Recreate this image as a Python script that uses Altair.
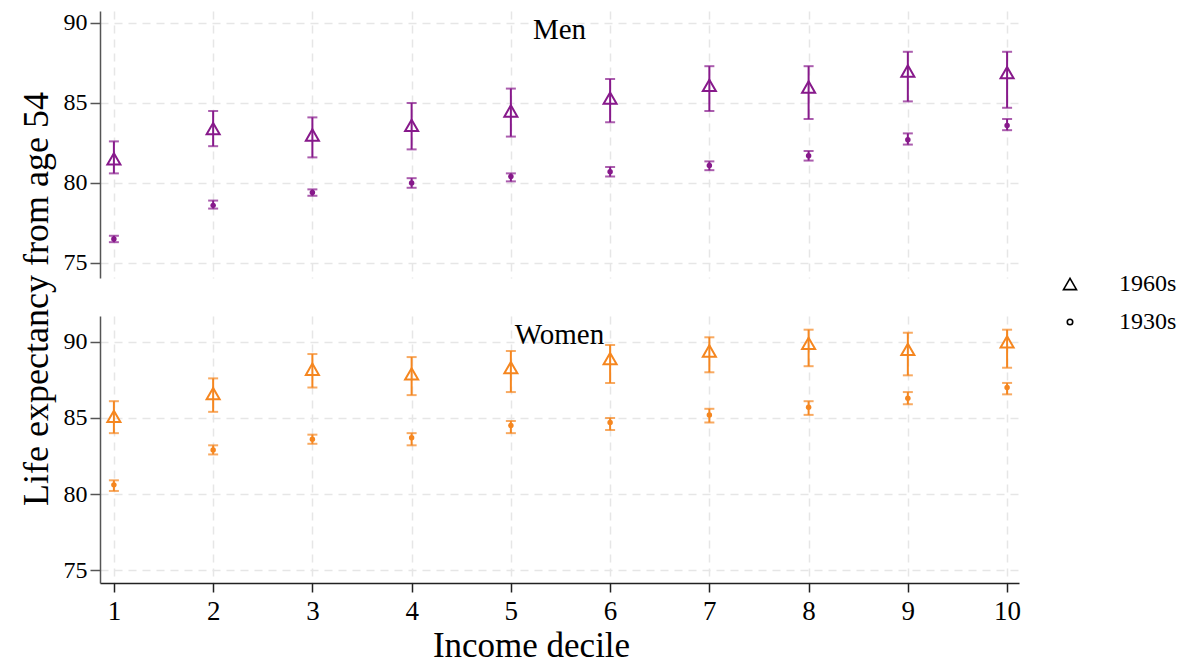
import altair as alt
import pandas as pd

# ---------------- data ----------------
deciles = [1, 2, 3, 4, 5, 6, 7, 8, 9, 10]
cohorts = ["1960s", "1930s"]
y_ticks = [75, 80, 85, 90]

men_1960_est = [81.5, 83.4, 83.0, 83.6, 84.5, 85.3, 86.1, 86.0, 87.0, 86.9]
men_1960_lo = [80.6, 82.3, 81.6, 82.1, 82.9, 83.8, 84.5, 84.0, 85.1, 84.7]
men_1960_hi = [82.6, 84.5, 84.1, 85.0, 85.9, 86.5, 87.3, 87.3, 88.2, 88.2]

men_1930_est = [76.5, 78.6, 79.4, 80.0, 80.4, 80.7, 81.1, 81.7, 82.7, 83.6]
men_1930_lo = [76.3, 78.4, 79.2, 79.7, 80.1, 80.4, 80.8, 81.4, 82.4, 83.3]
men_1930_hi = [76.7, 78.9, 79.6, 80.3, 80.6, 81.0, 81.35, 82.0, 83.1, 84.0]

women_1960_est = [85.1, 86.6, 88.2, 87.9, 88.3, 88.9, 89.4, 89.9, 89.5, 90.0]
women_1960_lo = [84.0, 85.4, 87.0, 86.5, 86.7, 87.3, 88.0, 88.4, 87.8, 88.3]
women_1960_hi = [86.1, 87.6, 89.2, 89.0, 89.4, 89.8, 90.3, 90.8, 90.6, 90.8]

women_1930_est = [80.6, 82.9, 83.6, 83.7, 84.5, 84.7, 85.2, 85.7, 86.3, 87.0]
women_1930_lo = [80.2, 82.6, 83.3, 83.2, 84.0, 84.2, 84.7, 85.2, 85.9, 86.55]
women_1930_hi = [80.9, 83.2, 83.9, 84.0, 84.8, 85.0, 85.6, 86.1, 86.7, 87.3]

panel_labels = ["Men", "Women"]
panel_colors = ["#87198b", "#f5861f"]

# ---------------- styling ----------------
FONT = "Liberation Serif"
W, H = 919, 267
X_DOMAIN = [0.86, 10.12]
Y_DOMAINS = [[74.06, 90.75], [74.15, 91.7]]


def frame(est, lo, hi, cohort):
    return pd.DataFrame({"decile": deciles, "est": est, "lo": lo, "hi": hi,
                         "cohort": [cohort] * len(deciles)})


shape_scale = alt.Scale(domain=cohorts, range=["triangle-up", "circle"])
size_scale = alt.Scale(domain=cohorts, range=[170, 30])

legend = alt.Legend(
    title=None, orient="none", legendX=958, legendY=261, padding=0,
    symbolStrokeColor="black", symbolFillColor="white", symbolStrokeWidth=1.6,
    labelFont=FONT, labelFontSize=24, labelColor="black", labelOffset=37,
    rowPadding=14,
)


def panel(df60, df30, color, ydomain, label, show_x):
    if show_x:
        xaxis = alt.Axis(values=deciles, title="Income decile", format="d",
                         domainColor="#222", domainWidth=1.5, tickColor="#222",
                         tickSize=9, tickWidth=1.5, labelFontSize=27,
                         labelPadding=6, titleFontSize=35, titlePadding=4,
                         titleX=431, titleAlign="center")
    else:
        xaxis = alt.Axis(values=deciles, labels=False, ticks=False,
                         domain=False, title=None)
    x = alt.X("decile:Q", scale=alt.Scale(domain=X_DOMAIN, nice=False, zero=False),
              axis=xaxis)
    yscale = alt.Scale(domain=ydomain, nice=False, zero=False)
    yaxis = alt.Axis(values=y_ticks, title=None, domainColor="#555",
                     domainWidth=1.5, tickColor="#555", tickSize=10,
                     tickWidth=1.5, labelFontSize=24, labelPadding=3)

    data = pd.concat([df60, df30], ignore_index=True)
    base = alt.Chart(data)
    rules = base.mark_rule(color=color, strokeWidth=2).encode(
        x=x, y=alt.Y("lo:Q", scale=yscale, axis=yaxis), y2="hi:Q")
    cap_lo = base.mark_tick(color=color, orient="horizontal", size=10,
                            thickness=2).encode(
        x=x, y=alt.Y("lo:Q", scale=yscale, axis=yaxis))
    cap_hi = base.mark_tick(color=color, orient="horizontal", size=10,
                            thickness=2).encode(
        x=x, y=alt.Y("hi:Q", scale=yscale, axis=yaxis))
    tri = alt.Chart(df60).mark_point(filled=False, color=color, strokeWidth=2,
                                     opacity=1).encode(
        x=x, y=alt.Y("est:Q", scale=yscale, axis=yaxis),
        shape=alt.Shape("cohort:N", scale=shape_scale, legend=legend),
        size=alt.Size("cohort:N", scale=size_scale, legend=legend))
    dots = alt.Chart(df30).mark_point(filled=True, color=color, opacity=1,
                                      strokeWidth=0).encode(
        x=x, y=alt.Y("est:Q", scale=yscale, axis=yaxis),
        shape=alt.Shape("cohort:N", scale=shape_scale, legend=legend),
        size=alt.Size("cohort:N", scale=size_scale, legend=legend))
    lab = alt.Chart(pd.DataFrame({"label": [label]})).mark_text(
        font=FONT, fontSize=29, color="black", baseline="middle",
        align="center").encode(text="label:N", x=alt.value(W / 2),
                               y=alt.value(19))
    return alt.layer(rules, cap_lo, cap_hi, tri, dots, lab).properties(
        width=W, height=H)


top = panel(frame(men_1960_est, men_1960_lo, men_1960_hi, "1960s"),
            frame(men_1930_est, men_1930_lo, men_1930_hi, "1930s"),
            panel_colors[0], Y_DOMAINS[0], panel_labels[0], False)
bottom = panel(frame(women_1960_est, women_1960_lo, women_1960_hi, "1960s"),
               frame(women_1930_est, women_1930_lo, women_1930_hi, "1930s"),
               panel_colors[1], Y_DOMAINS[1], panel_labels[1], True)

chart = alt.vconcat(top, bottom, spacing=38).properties(
    title=alt.TitleParams("Life expectancy from age 54", orient="left",
                          anchor="middle", font=FONT, fontSize=36,
                          fontWeight="normal", color="black", offset=7,
                          dx=38),
    padding={"left": 10, "top": 2, "right": 0, "bottom": 0},
    background="white",
).configure_view(stroke=None).configure_axis(
    labelFont=FONT, titleFont=FONT, labelColor="black", titleColor="black",
    titleFontWeight="normal", grid=True, gridColor="#e6e6e6", gridWidth=1.5,
    gridDash=[8, 6],
).configure_legend(labelFont=FONT, labelFontSize=24, labelColor="black")

chart.save("out.html", embed_options={"renderer": "svg", "actions": False})
